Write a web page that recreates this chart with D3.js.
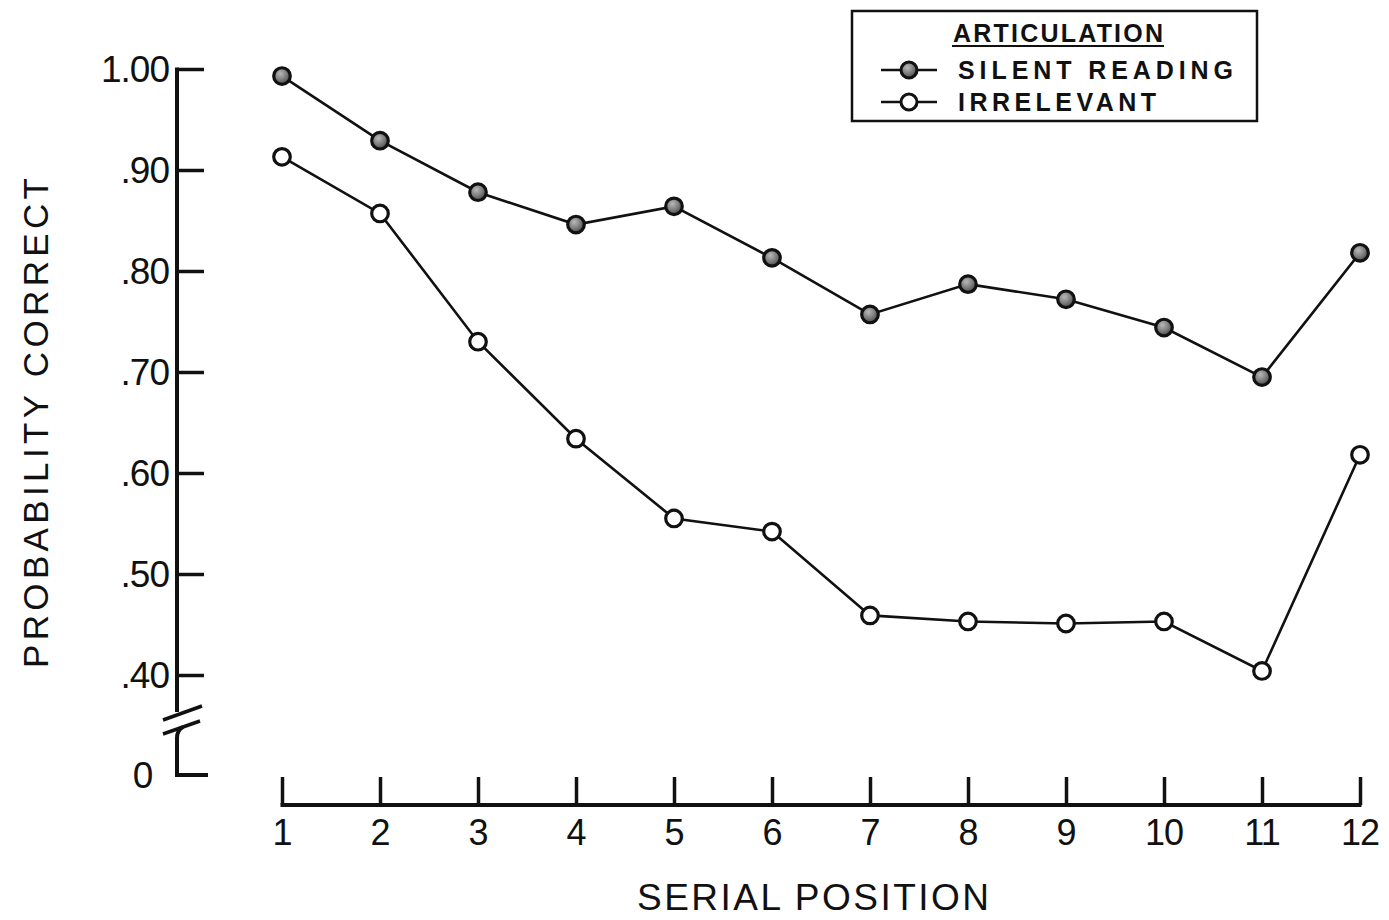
<!DOCTYPE html>
<html>
<head>
<meta charset="utf-8">
<script src="https://cdn.jsdelivr.net/npm/d3@7"></script>
<style>
  html, body { margin: 0; padding: 0; background: #fff; }
  svg { display: block; }
  text { font-family: "Liberation Sans", Arial, sans-serif; fill: #111; }
</style>
</head>
<body>
<svg id="chart" width="1389" height="920"></svg>
<script>
// Serial position curves: probability of correct recall by articulation condition
const positions = [1, 2, 3, 4, 5, 6, 7, 8, 9, 10, 11, 12];
const silentReading = [0.993, 0.929, 0.878, 0.846, 0.864, 0.813, 0.757, 0.787, 0.772, 0.744, 0.695, 0.818];
const irrelevant    = [0.913, 0.857, 0.730, 0.634, 0.555, 0.542, 0.459, 0.453, 0.451, 0.453, 0.404, 0.618];
const yTickValues = [1.0, 0.9, 0.8, 0.7, 0.6, 0.5, 0.4];
const yTickLabels = ["1.00", ".90", ".80", ".70", ".60", ".50", ".40"];
const seriesNames = ["SILENT READING", "IRRELEVANT"];

const svg = d3.select("#chart");
const ink = "#111";

const x = d3.scaleLinear().domain([1, 12]).range([282, 1360]);
const y = d3.scaleLinear().domain([0.4, 1.0]).range([675, 69]);
const yZero = 775;   // position of the broken-axis zero
const axisX = 177;

// gradient for the filled markers
const defs = svg.append("defs");
const grad = defs.append("radialGradient").attr("id", "dotFill")
  .attr("cx", "40%").attr("cy", "35%").attr("r", "65%");
grad.append("stop").attr("offset", "0%").attr("stop-color", "#b8b8b8");
grad.append("stop").attr("offset", "60%").attr("stop-color", "#7a7a7a");
grad.append("stop").attr("offset", "100%").attr("stop-color", "#4a4a4a");

// ---- Y axis (ticks pointing right) ----
const yAxis = d3.axisRight(y)
  .tickValues(yTickValues)
  .tickSize(27)
  .tickFormat("");
const gy = svg.append("g").attr("transform", `translate(${axisX},0)`).call(yAxis);
gy.select(".domain").remove();
gy.selectAll(".tick line").attr("stroke", ink).attr("stroke-width", 3.5);
svg.append("line")
  .attr("x1", axisX).attr("x2", axisX)
  .attr("y1", y(1.0) - 1.5).attr("y2", 712)
  .attr("stroke", ink).attr("stroke-width", 4);

// tick labels
svg.append("g").selectAll("text")
  .data(yTickValues)
  .join("text")
  .attr("x", 169)
  .attr("y", d => y(d))
  .attr("dy", "0.36em")
  .attr("text-anchor", "end")
  .attr("font-size", 37)
  .attr("letter-spacing", -1)
  .text((d, i) => yTickLabels[i]);

// axis break marks and the zero segment
svg.append("line").attr("x1", 163).attr("y1", 720).attr("x2", 202).attr("y2", 706)
  .attr("stroke", ink).attr("stroke-width", 3.5);
svg.append("line").attr("x1", 163).attr("y1", 734).attr("x2", 200).attr("y2", 721)
  .attr("stroke", ink).attr("stroke-width", 3.5);
svg.append("path")
  .attr("d", `M${axisX + 6},727 Q${axisX},730 ${axisX},738 L${axisX},${yZero} L208,${yZero}`)
  .attr("fill", "none").attr("stroke", ink).attr("stroke-width", 4);
svg.append("text").attr("x", 143).attr("y", yZero).attr("dy", "0.36em")
  .attr("text-anchor", "middle").attr("font-size", 37).text("0");

// ---- X axis (ticks pointing up) ----
const xAxis = d3.axisTop(x)
  .tickValues(positions)
  .tickSize(28)
  .tickFormat("");
const gx = svg.append("g").attr("transform", "translate(0,805)").call(xAxis);
gx.select(".domain").remove();
gx.selectAll(".tick line").attr("stroke", ink).attr("stroke-width", 3.5);
svg.append("line")
  .attr("x1", x(1) - 1.5).attr("x2", x(12) + 1.5)
  .attr("y1", 805).attr("y2", 805)
  .attr("stroke", ink).attr("stroke-width", 4);

svg.append("g").selectAll("text")
  .data(positions)
  .join("text")
  .attr("x", d => x(d))
  .attr("y", 832)
  .attr("dy", "0.36em")
  .attr("text-anchor", "middle")
  .attr("font-size", 36)
  .attr("letter-spacing", -1)
  .text(d => d);

// axis titles
svg.append("text")
  .attr("x", 813).attr("y", 897).attr("dy", "0.36em")
  .attr("text-anchor", "middle")
  .attr("font-size", 37)
  .attr("textLength", 352).attr("lengthAdjust", "spacing")
  .text("SERIAL POSITION");

svg.append("text")
  .attr("transform", "translate(35,423) rotate(-90)")
  .attr("dy", "0.36em")
  .attr("text-anchor", "middle")
  .attr("font-size", 35)
  .attr("textLength", 490).attr("lengthAdjust", "spacing")
  .text("PROBABILITY CORRECT");

// ---- series ----
const line = d3.line().x((d, i) => x(positions[i])).y(d => y(d));

function drawSeries(values, filled) {
  svg.append("path")
    .datum(values)
    .attr("d", line)
    .attr("fill", "none")
    .attr("stroke", ink)
    .attr("stroke-width", 2.6);
  svg.append("g").selectAll("circle")
    .data(values)
    .join("circle")
    .attr("cx", (d, i) => x(positions[i]))
    .attr("cy", d => y(d))
    .attr("r", 8.3)
    .attr("fill", filled ? "url(#dotFill)" : "#fff")
    .attr("stroke", ink)
    .attr("stroke-width", 3.2);
}
drawSeries(silentReading, true);
drawSeries(irrelevant, false);

// ---- legend ----
const legend = svg.append("g");
legend.append("rect")
  .attr("x", 852).attr("y", 11).attr("width", 405).attr("height", 110)
  .attr("fill", "#fff").attr("stroke", ink).attr("stroke-width", 2.5);
legend.append("text")
  .attr("x", 1058).attr("y", 33).attr("dy", "0.36em")
  .attr("text-anchor", "middle").attr("font-size", 25)
  .attr("textLength", 210).attr("lengthAdjust", "spacing")
  .attr("font-weight", "bold").text("ARTICULATION");
legend.append("line")
  .attr("x1", 952).attr("x2", 1164).attr("y1", 46).attr("y2", 46)
  .attr("stroke", ink).attr("stroke-width", 2);

const legendRows = [
  { name: seriesNames[0], filled: true, yy: 70, len: 275 },
  { name: seriesNames[1], filled: false, yy: 102, len: 198 }
];
legendRows.forEach(r => {
  legend.append("line")
    .attr("x1", 881).attr("x2", 937).attr("y1", r.yy).attr("y2", r.yy)
    .attr("stroke", ink).attr("stroke-width", 2.5);
  legend.append("circle")
    .attr("cx", 909).attr("cy", r.yy).attr("r", 8)
    .attr("fill", r.filled ? "url(#dotFill)" : "#fff")
    .attr("stroke", ink).attr("stroke-width", 3);
  legend.append("text")
    .attr("x", 958).attr("y", r.yy).attr("dy", "0.36em")
    .attr("font-size", 25).attr("font-weight", "bold")
    .attr("textLength", r.len).attr("lengthAdjust", "spacing")
    .text(r.name);
});
</script>
</body>
</html>
